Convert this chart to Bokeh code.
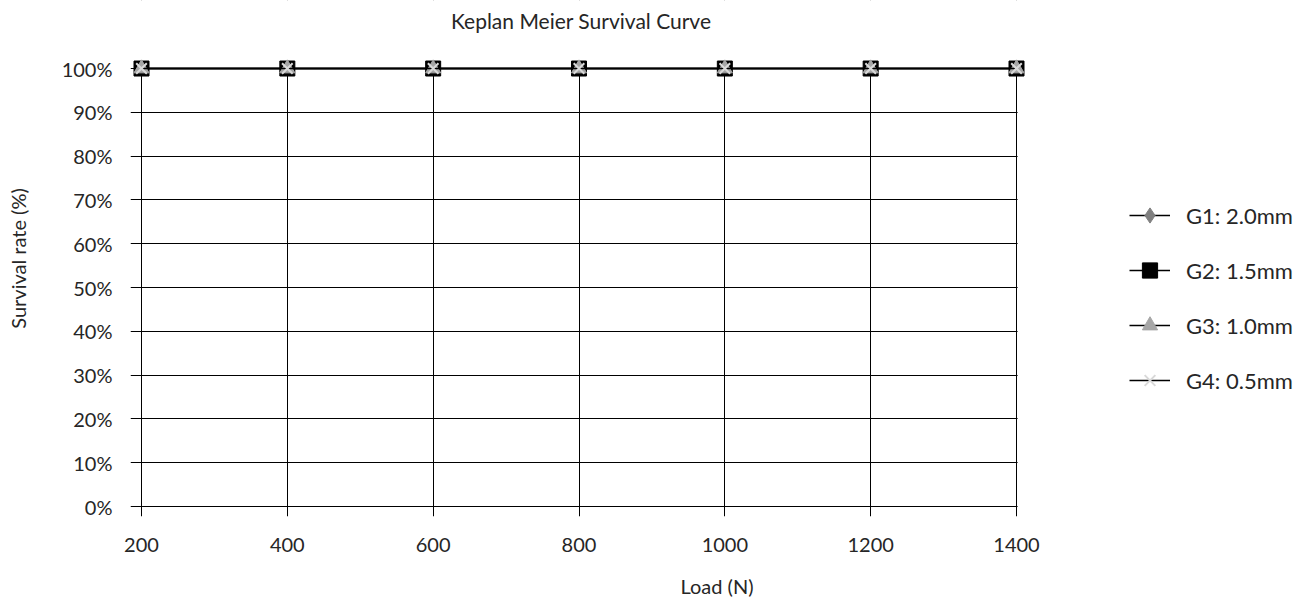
from bokeh.plotting import figure
from bokeh.models import Range1d, FixedTicker, Legend, LegendItem, BoxAnnotation, Label
from bokeh.embed import file_html
from bokeh.resources import INLINE

# ---- data ----
load_n = [200, 400, 600, 800, 1000, 1200, 1400]
g1_survival = [100, 100, 100, 100, 100, 100, 100]
g2_survival = [100, 100, 100, 100, 100, 100, 100]
g3_survival = [100, 100, 100, 100, 100, 100, 100]
g4_survival = [100, 100, 100, 100, 100, 100, 100]
series_names = ["G1: 2.0mm", "G2: 1.5mm", "G3: 1.0mm", "G4: 0.5mm"]
x_ticks = [200, 400, 600, 800, 1000, 1200, 1400]
y_ticks = [0, 10, 20, 30, 40, 50, 60, 70, 80, 90, 100]
y_tick_labels = ["0%", "10%", "20%", "30%", "40%", "50%", "60%", "70%", "80%", "90%", "100%"]
title_text = "Keplan Meier Survival Curve"

FONT = "Lato"
TEXT = "#262626"

x_range = Range1d(184.91, 1793.6)
y_range = Range1d(-2.28, 115.53)

# The frame spans up to the top and right edges of the canvas so that the title and
# the legend (drawn inside it) are not clipped; grid beyond the data area is masked.
p = figure(width=1303, height=608, output_backend="svg", toolbar_location=None,
           x_range=x_range, y_range=y_range,
           min_border_left=130, min_border_right=0, min_border_top=0,
           min_border_bottom=92)
p.outline_line_color = None
p.background_fill_color = "white"
p.border_fill_color = "white"

# axes
for ax in (p.xaxis[0], p.yaxis[0]):
    ax.axis_line_color = None
    ax.major_tick_line_color = None
    ax.minor_tick_line_color = None
    ax.major_tick_out = 0
    ax.major_tick_in = 0
    ax.minor_tick_out = 0
    ax.minor_tick_in = 0
    ax.major_label_text_font = FONT
    ax.major_label_text_font_size = "20px"
    ax.major_label_text_color = TEXT
    ax.axis_label_text_font = FONT
    ax.axis_label_text_font_size = "20px"
    ax.axis_label_text_font_style = "normal"
    ax.axis_label_text_color = TEXT

p.xaxis.ticker = FixedTicker(ticks=x_ticks)
p.yaxis.ticker = FixedTicker(ticks=y_ticks)
p.yaxis.major_label_overrides = {t: l for t, l in zip(y_ticks, y_tick_labels)}
p.xaxis.axis_label = "Load (N)"
p.yaxis.axis_label = "Survival rate (%)"
p.xaxis.bounds = (200, 1437)
p.yaxis.bounds = (0, 112.3)
p.xaxis.major_label_standoff = 21
p.xaxis.axis_label_standoff = 19
p.yaxis.major_label_standoff = 18
p.yaxis.axis_label_standoff = 29

p.xgrid.ticker = FixedTicker(ticks=x_ticks)
p.ygrid.ticker = FixedTicker(ticks=y_ticks)
for g in (p.xgrid[0], p.ygrid[0]):
    g.grid_line_color = "black"
    g.grid_line_width = 1
    g.grid_line_alpha = 1.0

# mask grid lines beyond the data area (above 100% and right of the last load)
p.add_layout(BoxAnnotation(bottom=y_ticks[-1] + 0.3, top=y_range.end + 20,
                           left=x_range.start - 50, right=x_range.end + 100,
                           fill_color="white", fill_alpha=1.0,
                           line_color=None, level="underlay"))
p.add_layout(BoxAnnotation(left=x_ticks[-1] + 1.5, right=x_range.end + 100,
                           bottom=y_range.start - 10, top=y_range.end + 20,
                           fill_color="white", fill_alpha=1.0,
                           line_color=None, level="underlay"))

styles = [
    ("diamond", 14, "#7f7f7f", 1),
    ("square", 15, "#000000", 1),
    ("triangle", 15, "#a6a6a6", 1),
    ("x", 15, "#d9d9d9", 2),
]
series = [g1_survival, g2_survival, g3_survival, g4_survival]

items = []
for name, ys, (marker, size, color, lw) in zip(series_names, series, styles):
    lr = p.line(load_n, ys, line_color="black", line_width=1.5)
    sr = p.scatter(load_n, ys, marker=marker, size=size, fill_color=color,
                   line_color=color, line_width=lw)
    items.append(LegendItem(label=name, renderers=[lr, sr]))

legend = Legend(items=items, location=(999, 117), glyph_width=41, glyph_height=38,
                spacing=17, padding=0, margin=0, label_standoff=16,
                border_line_color=None, background_fill_alpha=0,
                label_text_font=FONT, label_text_font_size="22px",
                label_text_color=TEXT, label_height=38)
p.add_layout(legend)

# title, centred over the load axis, above the 100% line
title = Label(x=(x_ticks[0] + x_ticks[-1]) / 2 + 3, y=110.85, text=title_text,
              text_font=FONT, text_font_size="21px", text_color=TEXT,
              text_align="center", text_baseline="middle")
p.add_layout(title)

open("out.html", "w").write(file_html(p, INLINE))
